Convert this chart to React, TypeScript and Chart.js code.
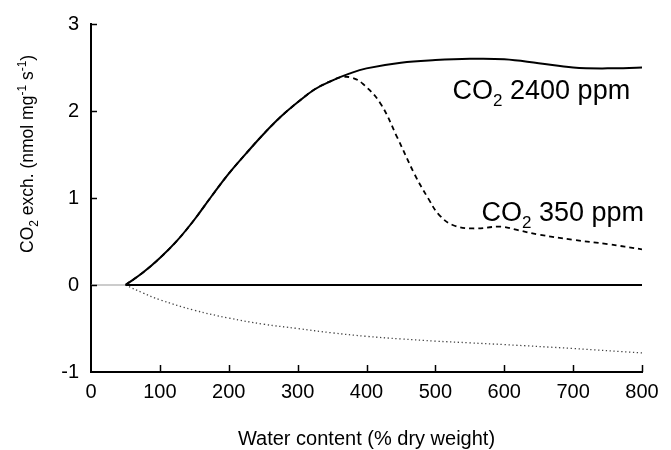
import React, { useEffect, useRef } from "react";
import { Chart, registerables } from "chart.js";

Chart.register(...registerables);

// Water content (% dry weight) and CO2 exchange (nmol mg-1 s-1)
const waterX2400 = [50, 75, 100, 125, 150, 175, 200, 225, 250, 275, 300, 325, 350, 375, 400, 450, 500, 550, 600, 650, 700, 750, 800];
const exch2400 = [0, 0.14, 0.31, 0.51, 0.75, 1.02, 1.28, 1.51, 1.73, 1.93, 2.1, 2.25, 2.35, 2.43, 2.49, 2.555, 2.585, 2.6, 2.595, 2.55, 2.5, 2.49, 2.5];

const waterX350 = [50, 75, 100, 125, 150, 175, 200, 225, 250, 275, 300, 325, 350, 365, 380, 395, 420, 445, 470, 490, 505, 525, 555, 595, 620, 650, 700, 750, 800];
const exch350 = [0, 0.14, 0.31, 0.51, 0.75, 1.02, 1.28, 1.51, 1.73, 1.93, 2.1, 2.25, 2.35, 2.39, 2.38, 2.31, 2.09, 1.69, 1.27, 0.99, 0.81, 0.69, 0.65, 0.67, 0.63, 0.58, 0.52, 0.47, 0.41];

const waterXDark = [50, 75, 100, 150, 200, 250, 300, 350, 400, 450, 500, 550, 600, 700, 800];
const exchDark = [0, -0.09, -0.17, -0.29, -0.38, -0.45, -0.5, -0.55, -0.59, -0.62, -0.645, -0.665, -0.685, -0.73, -0.78];

const zeroX = [50, 800];
const zeroY = [0, 0];
const leadX = [0, 50];
const leadY = [0, 0];

const xTicks = [0, 100, 200, 300, 400, 500, 600, 700, 800];
const yTicks = [-1, 0, 1, 2, 3];

const FONT = "'Liberation Sans', Arial, Helvetica, sans-serif";

type Part = { text: string; size: number; dy: number };

function drawParts(ctx: CanvasRenderingContext2D, parts: Part[], x: number, y: number) {
  let cx = x;
  for (const p of parts) {
    ctx.font = `${p.size}px ${FONT}`;
    ctx.fillText(p.text, cx, y + p.dy);
    cx += ctx.measureText(p.text).width;
  }
}

const pts = (xs: number[], ys: number[]) => xs.map((x, i) => ({ x, y: ys[i] }));

const annotate = {
  id: "annotate",
  afterDraw(chart: any) {
    const { ctx, scales, chartArea } = chart;
    const xs = scales.x;
    const ys = scales.y;
    ctx.save();
    ctx.strokeStyle = "#000";
    ctx.lineWidth = 1.5;
    // inward tick marks
    for (const v of xTicks) {
      if (v === 0) continue;
      const px = Math.round(xs.getPixelForValue(v)) + 0.5;
      ctx.beginPath();
      ctx.moveTo(px, chartArea.bottom);
      ctx.lineTo(px, chartArea.bottom - 7);
      ctx.stroke();
    }
    for (const v of yTicks) {
      if (v === -1) continue;
      const py = Math.round(ys.getPixelForValue(v)) + 0.5;
      ctx.beginPath();
      ctx.moveTo(chartArea.left, py);
      ctx.lineTo(chartArea.left + 6, py);
      ctx.stroke();
    }

    ctx.fillStyle = "#000";
    ctx.textBaseline = "alphabetic";
    ctx.textAlign = "left";

    // series labels
    drawParts(
      ctx,
      [
        { text: "CO", size: 27, dy: 0 },
        { text: "2", size: 17, dy: 7 },
        { text: " 2400 ppm", size: 27, dy: 0 },
      ],
      xs.getPixelForValue(525),
      ys.getPixelForValue(2.14)
    );
    drawParts(
      ctx,
      [
        { text: "CO", size: 27, dy: 0 },
        { text: "2", size: 17, dy: 7 },
        { text: " 350 ppm", size: 27, dy: 0 },
      ],
      xs.getPixelForValue(567),
      ys.getPixelForValue(0.74)
    );

    // x axis title
    ctx.font = `20px ${FONT}`;
    ctx.textAlign = "center";
    ctx.fillText("Water content (% dry weight)", (chartArea.left + chartArea.right) / 2, 445);

    // y axis title, rotated
    ctx.textAlign = "left";
    ctx.translate(33, 253);
    ctx.rotate(-Math.PI / 2);
    drawParts(
      ctx,
      [
        { text: "CO", size: 17.5, dy: 0 },
        { text: "2", size: 12, dy: 5 },
        { text: " exch. (nmol mg", size: 17.5, dy: 0 },
        { text: "-1", size: 12, dy: -7 },
        { text: " s", size: 17.5, dy: 0 },
        { text: "-1", size: 12, dy: -7 },
        { text: ")", size: 17.5, dy: 0 },
      ],
      0,
      0
    );
    ctx.restore();
  },
};

export default function App() {
  const canvasRef = useRef<HTMLCanvasElement | null>(null);

  useEffect(() => {
    if (!canvasRef.current) return;
    const chart = new Chart(canvasRef.current, {
      type: "line",
      data: {
        datasets: [
          {
            label: "lead",
            data: pts(leadX, leadY),
            borderColor: "#999",
            borderWidth: 1,
            pointRadius: 0,
            tension: 0,
          },
          {
            label: "zero",
            data: pts(zeroX, zeroY),
            borderColor: "#000",
            borderWidth: 2,
            pointRadius: 0,
            tension: 0,
          },
          {
            label: "CO2 350 ppm",
            data: pts(waterX350, exch350),
            borderColor: "#000",
            borderWidth: 1.8,
            borderDash: [5, 4],
            pointRadius: 0,
            tension: 0.4,
          },
          {
            label: "CO2 2400 ppm",
            data: pts(waterX2400, exch2400),
            borderColor: "#000",
            borderWidth: 2,
            pointRadius: 0,
            tension: 0.4,
          },
          {
            label: "dark",
            data: pts(waterXDark, exchDark),
            borderColor: "#444",
            borderWidth: 1.3,
            borderDash: [1.3, 2.6],
            pointRadius: 0,
            tension: 0.4,
          },
        ],
      },
      options: {
        responsive: false,
        animation: false,
        layout: { padding: { left: 0, right: 29, top: 17, bottom: 0 } },
        plugins: { legend: { display: false }, tooltip: { enabled: false } },
        scales: {
          x: {
            type: "linear",
            min: 0,
            max: 800,
            afterFit: (s: any) => {
              s.height = 78;
            },
            afterBuildTicks: (s: any) => {
              s.ticks = xTicks.map((v) => ({ value: v }));
            },
            grid: { display: true, drawOnChartArea: false, drawTicks: false },
            border: { display: true, color: "#000", width: 2 },
            ticks: {
              color: "#000",
              padding: 8,
              maxRotation: 0,
              font: { family: FONT, size: 20 },
            },
          },
          y: {
            type: "linear",
            min: -1,
            max: 3,
            afterFit: (s: any) => {
              s.width = 91;
            },
            afterBuildTicks: (s: any) => {
              s.ticks = yTicks.map((v) => ({ value: v }));
            },
            grid: { display: true, drawOnChartArea: false, drawTicks: false },
            border: { display: true, color: "#000", width: 2 },
            ticks: {
              color: "#000",
              padding: 12,
              font: { family: FONT, size: 20 },
            },
          },
        },
      },
      plugins: [annotate],
    });
    return () => chart.destroy();
  }, []);

  return (
    <div style={{ position: "absolute", left: 0, top: 0, width: 671, height: 450, background: "#fff" }}>
      <canvas ref={canvasRef} width={671} height={450} style={{ display: "block" }} />
    </div>
  );
}
